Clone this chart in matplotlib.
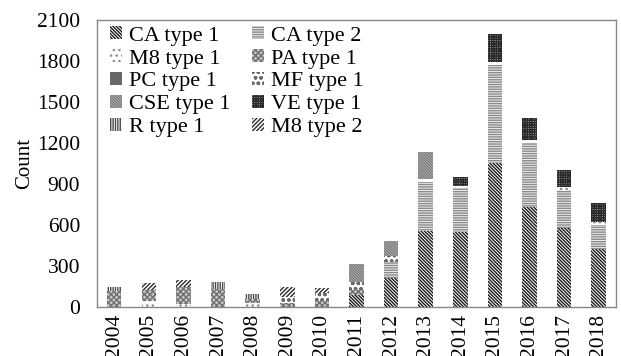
import matplotlib
matplotlib.use("Agg")
import matplotlib.pyplot as plt
import numpy as np

plt.rcParams['font.family'] = ['Liberation Serif', 'DejaVu Serif']
plt.rcParams['hatch.linewidth'] = 1.0

years = [str(y) for y in range(2004, 2019)]

# counts per year for each type (stacked bottom to top)
ca_type1  = [0, 0, 0, 0, 0, 0, 0, 88, 214, 555, 550, 1051, 733, 575, 424]
ca_type2  = [0, 0, 0, 0, 0, 0, 0, 0, 117, 360, 319, 716, 464, 280, 176]
m8_type1  = [0, 42, 20, 0, 30, 0, 0, 0, 0, 20, 14, 23, 22, 24, 20]
pa_type1  = [115, 81, 126, 130, 31, 30, 40, 36, 0, 0, 0, 0, 0, 0, 0]
pc_type1  = [0, 0, 0, 0, 0, 0, 0, 0, 0, 0, 0, 0, 0, 0, 0]
mf_type1  = [0, 0, 0, 0, 0, 45, 60, 61, 42, 0, 0, 0, 0, 0, 0]
cse_type1 = [0, 0, 0, 0, 0, 0, 0, 129, 112, 199, 0, 0, 0, 0, 0]
ve_type1  = [0, 0, 0, 0, 0, 0, 0, 0, 0, 0, 68, 210, 166, 121, 142]
r_type1   = [29, 0, 0, 50, 32, 0, 0, 0, 0, 0, 0, 0, 0, 0, 0]
m8_type2  = [0, 50, 54, 0, 0, 71, 39, 0, 0, 0, 0, 0, 0, 0, 0]

series = [
    ("CA type 1", ca_type1, dict(facecolor="white", edgecolor="#1a1a1a", hatch="\\" * 10)),
    ("CA type 2", ca_type2, dict(facecolor="#eeeeee", edgecolor="#8a8a8a", hatch="-" * 7)),
    ("M8 type 1", m8_type1, dict(facecolor="white", edgecolor="#8a8a8a", hatch="...")),
    ("PA type 1", pa_type1, dict(facecolor="#c8c8c8", edgecolor="#707070", hatch="x" * 6)),
    ("PC type 1", pc_type1, dict(facecolor="#666666", edgecolor="#666666", hatch=None)),
    ("MF type 1", mf_type1, dict(facecolor="white", edgecolor="#6a6a6a", hatch="ooo")),
    ("CSE type 1", cse_type1, dict(facecolor="#c8c8c8", edgecolor="#7a7a7a", hatch="\\" * 12)),
    ("VE type 1", ve_type1, dict(facecolor="#aaaaaa", edgecolor="#2a2a2a", hatch="+" * 7)),
    ("R type 1", r_type1, dict(facecolor="white", edgecolor="#4a4a4a", hatch="|" * 7)),
    ("M8 type 2", m8_type2, dict(facecolor="white", edgecolor="#2a2a2a", hatch="/" * 8)),
]

fig = plt.figure(figsize=(6.21, 3.56), dpi=100)
ax = fig.add_axes([0.156, 0.138, 0.836, 0.806])

x = np.arange(len(years))
bottom = np.zeros(len(years))
handles = {}
for name, vals, style in series:
    vals = np.array(vals, dtype=float)
    bars = ax.bar(x, vals, width=0.42, bottom=bottom, linewidth=0, **style)
    handles[name] = bars
    bottom += vals

ax.set_xlim(-0.5, len(years) - 0.5)
ax.set_ylim(0, 2100)
ax.set_yticks(range(0, 2101, 300))
ax.set_xticks(x)
ax.set_xticklabels(years, rotation=90, fontsize=15.5)
ax.tick_params(axis='y', labelsize=15.5, length=0, pad=12)
ax.tick_params(axis='x', length=0, pad=5)
ax.set_ylabel("Count", fontsize=15, labelpad=2)
for spine in ax.spines.values():
    spine.set_color("#888888")
    spine.set_linewidth(1)

# legend fills column-wise, so order entries to read row by row
order = ["CA type 1", "M8 type 1", "PC type 1", "CSE type 1", "R type 1",
         "CA type 2", "PA type 1", "MF type 1", "VE type 1", "M8 type 2"]
ax.legend([handles[n] for n in order], order, ncol=2, loc="upper left",
          bbox_to_anchor=(0.0, 1.025), frameon=False, fontsize=16,
          handlelength=0.55, handleheight=0.55, handletextpad=0.3,
          columnspacing=0.95, labelspacing=0.15, borderaxespad=0.2)

fig.savefig("out.png", dpi=100)
